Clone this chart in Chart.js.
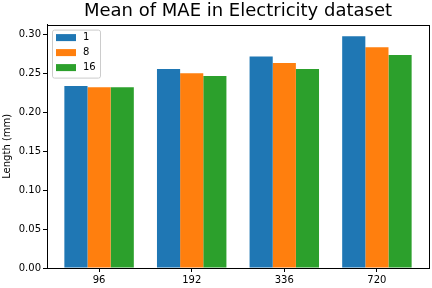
<!DOCTYPE html>
<html>
<head>
<meta charset="utf-8">
<script src="https://cdn.jsdelivr.net/npm/chart.js@4/dist/chart.umd.min.js"></script>
<style>
  html, body { margin: 0; padding: 0; background: #fff; }
  #wrap { width: 432px; height: 288px; }
</style>
</head>
<body>
<div id="wrap"><canvas id="maeChart" width="432" height="288"></canvas></div>
<script>
const horizons = ["96", "192", "336", "720"];
const seriesNames = ["1", "8", "16"];
const mae1 = [0.234, 0.256, 0.272, 0.298];
const mae8 = [0.2325, 0.2505, 0.2635, 0.284];
const mae16 = [0.2325, 0.247, 0.256, 0.274];
const yTicks = [0.00, 0.05, 0.10, 0.15, 0.20, 0.25, 0.30];
const colors = ["#1f77b4", "#ff7f0e", "#2ca02c"];

const font = "'DejaVu Sans', sans-serif";

// box around the plot area, like matplotlib spines
const frame = {
  id: "frame",
  afterDraw(chart) {
    const a = chart.chartArea, ctx = chart.ctx;
    ctx.save();
    ctx.strokeStyle = "#000";
    ctx.lineWidth = 1;
    ctx.strokeRect(Math.round(a.left) + 0.5, Math.round(a.top) + 0.5,
      Math.round(a.right - a.left), Math.round(a.bottom - a.top));
    ctx.restore();
  }
};

// legend drawn inside the upper left corner
const insideLegend = {
  id: "insideLegend",
  afterDraw(chart) {
    const a = chart.chartArea, ctx = chart.ctx;
    const x = a.left + 5, y = a.top + 5, w = 48, h = 48;
    ctx.save();
    ctx.fillStyle = "rgba(255,255,255,0.8)";
    ctx.strokeStyle = "#cccccc";
    ctx.lineWidth = 1;
    ctx.beginPath();
    ctx.roundRect(x + 0.5, y + 0.5, w, h, 2);
    ctx.fill();
    ctx.stroke();
    ctx.font = "10px " + font;
    ctx.textBaseline = "middle";
    chart.data.datasets.forEach((ds, i) => {
      const cy = y + 8 + i * 15;
      ctx.fillStyle = ds.backgroundColor;
      ctx.fillRect(x + 4, cy - 3.5, 20, 7);
      ctx.fillStyle = "#000";
      ctx.fillText(ds.label, x + 31, cy);
    });
    ctx.restore();
  }
};

const seriesValues = [mae1, mae8, mae16];

new Chart(document.getElementById("maeChart"), {
  type: "bar",
  data: {
    datasets: seriesNames.map((name, i) => ({
      label: name,
      data: seriesValues[i].map((v, j) => ({ x: j, y: v })),
      backgroundColor: colors[i],
      borderWidth: 0,
      categoryPercentage: 0.75,
      barPercentage: 1.0
    }))
  },
  options: {
    responsive: false,
    animation: false,
    devicePixelRatio: 1,
    layout: { padding: { left: 0, right: 3, top: 0, bottom: 0 } },
    plugins: {
      legend: { display: false },
      tooltip: { enabled: false },
      title: {
        display: true,
        fullSize: false,
        text: "Mean of MAE in Electricity dataset",
        color: "#000",
        font: { family: font, size: 18, weight: "normal" },
        padding: { top: 1, bottom: 2 }
      }
    },
    scales: {
      x: {
        type: "linear",
        offset: false,
        min: -0.5625,
        max: 3.5625,
        afterBuildTicks: (axis) => { axis.ticks = horizons.map((_, i) => ({ value: i })); },
        ticks: {
          callback: (v) => horizons[v],
          color: "#000",
          font: { family: font, size: 10 },
          padding: 2,
          maxRotation: 0
        },
        grid: { display: true, offset: false, drawOnChartArea: false, drawTicks: true, tickLength: 4, color: "#000" },
        border: { display: true, color: "#000" }
      },
      y: {
        min: 0,
        max: 0.313,
        afterBuildTicks: (axis) => { axis.ticks = yTicks.map(v => ({ value: v })); },
        afterFit: (axis) => { axis.width = 47; },
        ticks: {
          callback: (v) => v.toFixed(2),
          color: "#000",
          font: { family: font, size: 10 },
          padding: 2
        },
        title: {
          display: true,
          text: "Length (mm)",
          color: "#000",
          font: { family: font, size: 10 },
          padding: { top: 1, bottom: 0 }
        },
        grid: { display: true, drawOnChartArea: false, drawTicks: true, tickLength: 4, color: "#000" },
        border: { display: true, color: "#000" }
      }
    }
  },
  plugins: [frame, insideLegend]
});
</script>
</body>
</html>
